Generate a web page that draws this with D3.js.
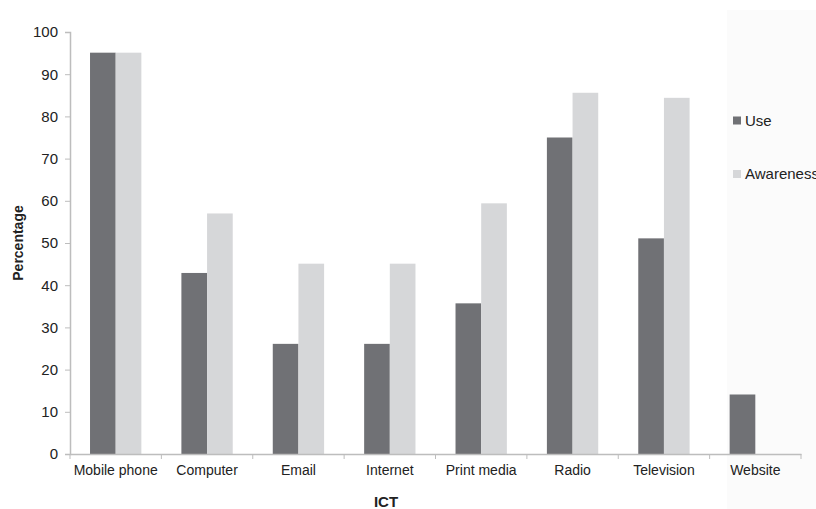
<!DOCTYPE html>
<html><head><meta charset="utf-8">
<script src="https://cdn.jsdelivr.net/npm/d3@7"></script>
<style>body{margin:0;background:#fff}svg{display:block;font-family:"Liberation Sans",Arial,sans-serif}</style>
</head><body><svg id="c" width="816" height="509"></svg>
<script>
const categories = ["Mobile phone","Computer","Email","Internet","Print media","Radio","Television","Website"];
const useValues = [95.1, 42.9, 26.1, 26.1, 35.7, 75.0, 51.1, 14.1];
const awarenessValues = [95.1, 57.0, 45.1, 45.1, 59.4, 85.6, 84.4, 0];
const seriesNames = ["Use","Awareness"];
const yTicks = [0,10,20,30,40,50,60,70,80,90,100];

const colors = {Use:"#707175", Awareness:"#d6d7d9"};
const svg = d3.select("#c");
const x0 = 70, x1 = 801, yTop = 32, yBot = 454;

svg.append("rect").attr("x",727).attr("y",10).attr("width",89).attr("height",499).attr("fill","#fbfbfb");

const x = d3.scaleBand().domain(categories).range([x0,x1]).paddingInner(0).paddingOuter(0);
const xs = d3.scaleBand().domain(seriesNames).range([0,x.bandwidth()]).paddingInner(0).paddingOuter(0.78);
const y = d3.scaleLinear().domain([0,100]).range([yBot,yTop]);

const data = categories.map((c,i)=>({c, vals:[{s:"Use",v:useValues[i]},{s:"Awareness",v:awarenessValues[i]}]}));
const g = svg.append("g");
g.selectAll("g.grp").data(data).join("g").attr("class","grp")
  .attr("transform",d=>`translate(${x(d.c)},0)`)
  .selectAll("rect").data(d=>d.vals.filter(e=>e.v>0)).join("rect")
  .attr("x",e=>xs(e.s)).attr("width",xs.bandwidth())
  .attr("y",e=>y(e.v)).attr("height",e=>yBot-y(e.v))
  .attr("fill",e=>colors[e.s]);

// y axis
const ya = svg.append("g").attr("transform",`translate(${x0},0)`)
  .call(d3.axisLeft(y).tickValues(yTicks).tickSize(5).tickPadding(7));
ya.select(".domain").attr("stroke","#bdbdbd").attr("stroke-width",1.5);
ya.selectAll(".tick line").attr("stroke","#bdbdbd");
ya.selectAll(".tick text").attr("font-size",15).attr("fill","#222").attr("font-family","Liberation Sans, Arial, sans-serif");

// x axis
const xa = svg.append("g").attr("transform",`translate(0,${yBot})`)
  .call(d3.axisBottom(x).tickSize(0).tickPadding(10));
xa.select(".domain").attr("stroke","#bdbdbd").attr("stroke-width",1.5);
xa.selectAll(".tick text").attr("font-size",14).attr("fill","#222").attr("font-family","Liberation Sans, Arial, sans-serif").attr("dy","0.75em");
const bounds = categories.map(c=>x(c)).concat([x1]);
svg.append("g").selectAll("line").data(bounds).join("line")
  .attr("x1",d=>d).attr("x2",d=>d).attr("y1",yBot).attr("y2",yBot+5)
  .attr("stroke","#bdbdbd");

// axis titles
svg.append("text").attr("transform",`translate(23,${(yTop+yBot)/2}) rotate(-90)`)
  .attr("text-anchor","middle").attr("font-size",14).attr("font-weight","bold").attr("fill","#222").text("Percentage");
svg.append("text").attr("x",386).attr("y",507).attr("text-anchor","middle")
  .attr("font-size",15).attr("font-weight","bold").attr("fill","#222").text("ICT");

// legend
const leg = svg.append("g").selectAll("g").data(seriesNames).join("g")
  .attr("transform",(d,i)=>`translate(733,${120.5+i*53.5})`);
leg.append("rect").attr("x",0).attr("y",-4).attr("width",8).attr("height",8).attr("fill",d=>colors[d]);
leg.append("text").attr("x",12).attr("y",0).attr("dy","0.35em").attr("font-size",15).attr("fill","#222").text(d=>d);
</script></body></html>
